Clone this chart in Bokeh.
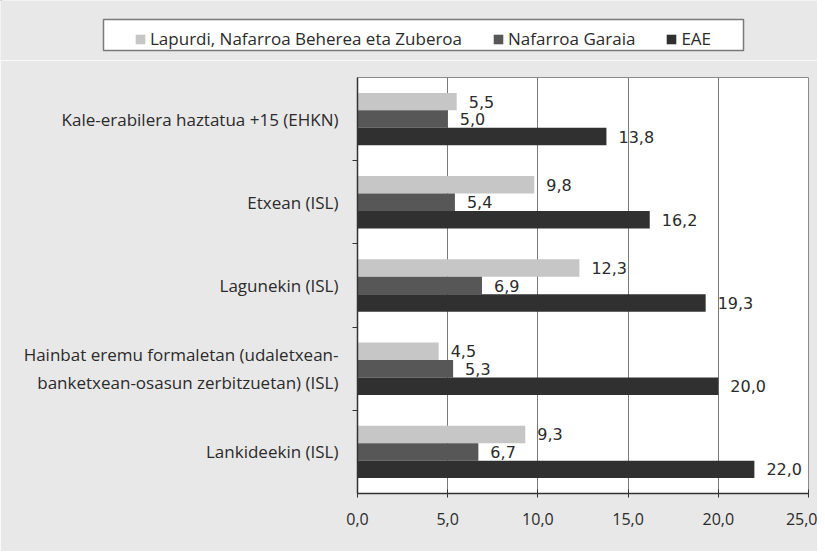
from bokeh.plotting import figure
from bokeh.models import (ColumnDataSource, Range1d, FixedTicker, Legend, LegendItem,
                          CustomJSTickFormatter)
from bokeh.embed import file_html
from bokeh.resources import INLINE
from bokeh.core.properties import value

categories = [
    "Kale-erabilera haztatua +15 (EHKN)",
    "Etxean (ISL)",
    "Lagunekin (ISL)",
    "Hainbat eremu formaletan (udaletxean-\nbanketxean-osasun zerbitzuetan) (ISL)",
    "Lankideekin (ISL)",
]
series_names = ["Lapurdi, Nafarroa Beherea eta Zuberoa", "Nafarroa Garaia", "EAE"]
lapurdi = [5.5, 9.8, 12.3, 4.5, 9.3]
nafarroa = [5.0, 5.4, 6.9, 5.3, 6.7]
eae = [13.8, 16.2, 19.3, 20.0, 22.0]
x_ticks = [0, 5, 10, 15, 20, 25]

colors = ["#c6c6c6", "#575757", "#303030"]
BG = "#e8e8e8"
W = 817
LEG_H = 60

n = len(categories)
centers = [n - i - 0.5 for i in range(n)]
bar_h = 0.21
offsets = [bar_h, 0.0, -bar_h]

# ---------------- main chart ----------------
p = figure(width=W, height=551 - LEG_H, output_backend="svg", toolbar_location=None,
           x_range=Range1d(0, 25), y_range=Range1d(0, n),
           min_border_left=357, min_border_right=9, min_border_top=17, min_border_bottom=58,
           background_fill_color="white", border_fill_color=BG)
p.outline_line_color = "#8a8a8a"
p.outline_line_width = 1

for vals, col, off in zip([lapurdi, nafarroa, eae], colors, offsets):
    src = ColumnDataSource(dict(
        y=[c + off for c in centers],
        x=vals,
        lbl=[f"{v:.1f}".replace(".", ",") for v in vals],
    ))
    p.hbar(y="y", right="x", left=0, height=bar_h, source=src,
           fill_color=col, line_color=None)
    p.text(x="x", y="y", text="lbl", source=src, x_offset=12,
           text_font=value("DejaVu Sans"), text_font_size="16px",
           text_color="#2b2b2b", text_baseline="middle", text_align="left")

p.xaxis.ticker = FixedTicker(ticks=x_ticks)
p.xaxis.formatter = CustomJSTickFormatter(code="return tick.toFixed(1).replace('.', ',');")
p.xaxis.major_label_text_font = "Open Sans"
p.xaxis.major_label_text_font_size = "16px"
p.xaxis.major_label_text_color = "#2b2b2b"
p.xaxis.major_label_standoff = 15
p.xaxis.major_tick_in = 4
p.xaxis.major_tick_out = 4
p.xaxis.major_tick_line_color = "#333333"
p.xaxis.minor_tick_line_color = None
p.xaxis.axis_line_color = "#333333"
p.xaxis.axis_line_width = 1.5

p.yaxis.ticker = FixedTicker(ticks=centers, minor_ticks=[1, 2, 3, 4])
p.yaxis.major_label_overrides = {c: lab for c, lab in zip(centers, categories)}
p.yaxis.major_label_text_font = "Open Sans"
p.yaxis.major_label_text_font_size = "17px"
p.yaxis.major_label_text_color = "#2b2b2b"
p.yaxis.major_label_standoff = 13
p.yaxis.major_tick_line_color = None
p.yaxis.minor_tick_in = 0
p.yaxis.minor_tick_out = 5
p.yaxis.minor_tick_line_color = "#333333"
p.yaxis.axis_line_color = "#333333"
p.yaxis.axis_line_width = 1.5

p.xgrid.ticker = FixedTicker(ticks=x_ticks)
p.xgrid.grid_line_color = "#7a7a7a"
p.xgrid.grid_line_width = 1
p.ygrid.grid_line_color = None

# ---------------- legend strip ----------------
lg = figure(width=W, height=LEG_H, output_backend="svg", toolbar_location=None,
            x_range=Range1d(0, W), y_range=Range1d(LEG_H, 0),
            x_axis_type=None, y_axis_type=None, min_border=0,
            background_fill_color=BG, border_fill_color=BG)
lg.outline_line_color = None
lg.grid.grid_line_color = None
lg.quad(left=[103], right=[743], top=[19], bottom=[50],
        fill_color="white", line_color="#7a7a7a", line_width=1.5)
# legend proxies (placed outside the visible range; only their legend swatches show)
leg_renderers = [lg.hbar(y=[-100], right=[1], left=0, height=1, fill_color=c, line_color=None)
                 for c in colors]
legend = Legend(items=[LegendItem(label=nm, renderers=[r]) for nm, r in zip(series_names, leg_renderers)],
                orientation="horizontal", location=(134, 10),
                label_text_font="Open Sans", label_text_font_size="17px", label_text_color="#2b2b2b",
                glyph_width=12, glyph_height=12, label_standoff=4, spacing=30, padding=5,
                label_height=20, margin=0,
                border_line_color=None, background_fill_alpha=0)
lg.add_layout(legend, "center")

open("out.html", "w").write(file_html([lg, p], INLINE))
